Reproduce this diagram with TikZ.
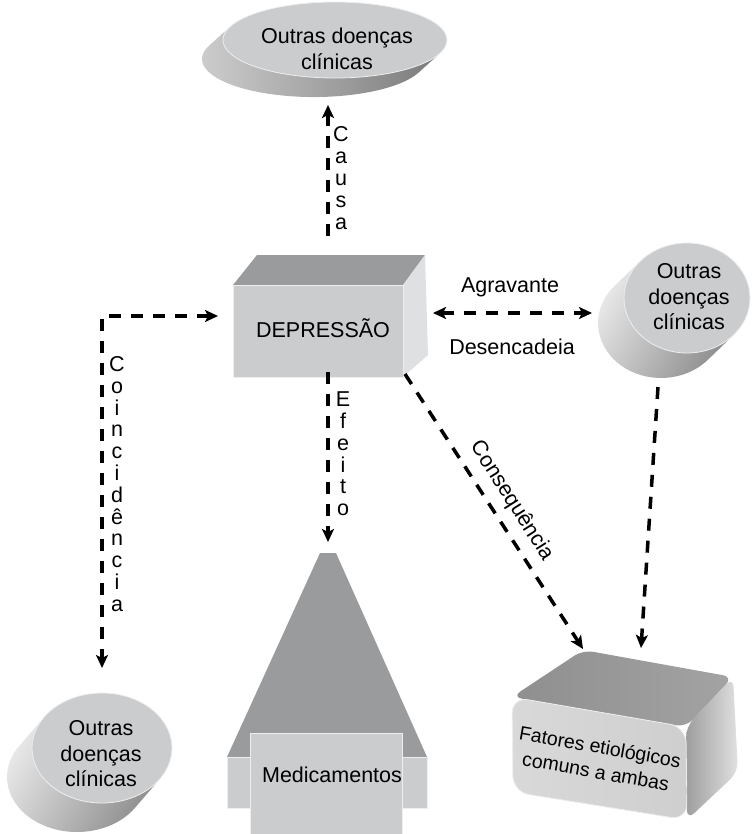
\documentclass[tikz,border=0pt]{standalone}
\usepackage{fontspec}
\setmainfont{Liberation Sans}
\usetikzlibrary{arrows.meta,calc}
\definecolor{faceL}{HTML}{CBCCCE}
\definecolor{faceD}{HTML}{9A9B9D}
\definecolor{faceW}{HTML}{DFE0E2}
\definecolor{edgeW}{HTML}{EEEEEF}
\tikzset{
  txt/.style={font=\fontsize{21.5pt}{25.5pt}\selectfont, align=center, inner sep=0pt},
  vtxt/.style={font=\fontsize{21.5pt}{21.8pt}\selectfont, align=center, inner sep=0pt},
  darrow/.style={line width=3.5pt, dash pattern=on 12pt off 10pt, -{Stealth[length=13pt,width=12pt,inset=3pt]}},
  dbarrow/.style={line width=3.5pt, dash pattern=on 12pt off 10pt, {Stealth[length=13pt,width=12pt,inset=3pt]}-{Stealth[length=13pt,width=12pt,inset=3pt]}},
  cylside/.style={left color=black!8, right color=black!45, shading angle=60},
}
\begin{document}
\begin{tikzpicture}[x=1pt,y=-1pt]
\useasboundingbox (0,0) rectangle (753,834);

% ---------- top disc ----------
\shade[left color=black!18, right color=black!52]
  (439.8,53.4) -- (418.8,72.4) arc[start angle=20.6, end angle=200.6, x radius=112, y radius=38]
  -- (230.2,26.6) -- cycle;
\fill[faceL, draw=edgeW, line width=0.8pt] (335,40) ellipse [x radius=112, y radius=38];
\node[txt] (topd) at (337,49) {Outras doenças\\clínicas};

% ---------- right cylinder ----------
\shade[cylside]
  (733.7,334.9) -- (707.7,359.9) arc[start angle=42.2, end angle=222.2, x radius=63, y radius=55]
  -- (640.3,261.1) -- cycle;
\fill[faceL, draw=edgeW, line width=0.8pt] (687,298) ellipse [x radius=63, y radius=55];
\node[txt] (rcyl) at (689,297) {Outras\\doenças\\clínicas};

% ---------- bottom-left cylinder ----------
\shade[cylside]
  (159.96,778.83) -- (134.96,807.83) arc[start angle=34.1, end angle=214.1, x radius=70, y radius=55]
  -- (44.04,717.17) -- cycle;
\fill[faceL, draw=edgeW, line width=0.8pt] (102,748) ellipse [x radius=70, y radius=55];
\node[txt] (lcyl) at (101,754) {Outras\\doenças\\clínicas};

% ---------- depression box ----------
\fill[faceD] (233,285) -- (257,255) -- (425,255) -- (403,285) -- cycle;
\fill[faceW] (403,285) -- (425,255) -- (428,355) -- (403,377) -- cycle;
\fill[faceL, draw=edgeW, line width=0.8pt] (233,285) rectangle (403,377);
\node[txt] (dep) at (323,328) {DEPRESSÃO};

% ---------- medicamentos ----------
\fill[faceD] (227,757) -- (320,553) -- (336,553) -- (427,757) -- cycle;
\fill[faceL, draw=edgeW, line width=0.8pt] (227,757) rectangle (427,808);
\fill[faceL, draw=edgeW, line width=0.8pt] (250,733) rectangle (402,834);
\fill[faceL] (251,758) rectangle (401,807);
\node[txt] (med) at (332,775) {Medicamentos};

% ---------- fatores box ----------
\shade[left color=black!44, right color=black!36, rounded corners=10pt]
  (512,697) -- (583,650) -- (733,677) -- (686,727) -- cycle;
\shade[left color=black!38, right color=black!12, rounded corners=10pt]
  (686,727) -- (733,677) -- (738,772) -- (687,820) -- cycle;
\shade[left color=black!15, right color=black!19, draw=edgeW, line width=0.8pt, rounded corners=16pt]
  (512,697) -- (686,727) -- (687,820) -- (513,792) -- cycle;
\node[txt, font=\fontsize{19.5pt}{25pt}\selectfont, rotate=-10] (fat) at (598,759) {Fatores etiológicos\\comuns a ambas};

% ---------- connector end points ----------
\coordinate (causaS) at (328,236);
\coordinate (causaE) at (328,105);
\coordinate (efS) at (328,372);
\coordinate (efE) at (328,542);
\coordinate (agL) at (433,313);
\coordinate (agR) at (592,313);
\coordinate (coR) at (218,316);
\coordinate (coC) at (102,316);
\coordinate (coB) at (102,668);
\coordinate (cqS) at (405,374);
\coordinate (cqE) at (583,649);
\coordinate (rS) at (658,387);
\coordinate (rE) at (641,648);

% ---------- connectors ----------
\draw[darrow] (causaS) -- (causaE);
\draw[darrow] (efS) -- (efE);
\draw[dbarrow] (agL) -- (agR);
\draw[dbarrow] (coR) -- (coC) -- (coB);
\draw[darrow] (cqS) -- (cqE);
\draw[darrow] (rS) -- (rE);

% ---------- labels ----------
\node[vtxt] (lcausa) at (341,178) {C\\a\\u\\s\\a};
\node[vtxt] (lefeito) at (343,454) {E\\f\\e\\i\\t\\o};
\node[vtxt] (lcoinc) at (117,484) {C\\o\\i\\n\\c\\i\\d\\ê\\n\\c\\i\\a};
\node[txt] (lagr) at (510,287) {Agravante};
\node[txt] (ldes) at (512,347) {Desencadeia};
\node[txt, rotate=-57.7] (lcons) at (512,501) {Consequência};
\end{tikzpicture}
\end{document}
